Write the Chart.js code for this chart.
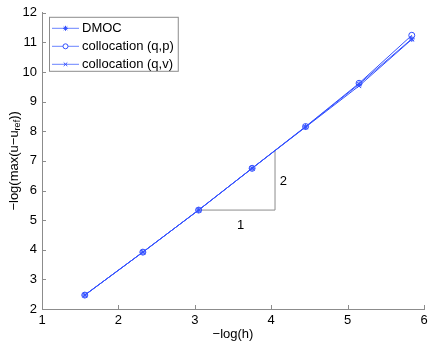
<!DOCTYPE html>
<html>
<head>
<meta charset="utf-8">
<script src="https://cdn.jsdelivr.net/npm/chart.js@4/dist/chart.umd.min.js"></script>
<style>
  html, body { margin: 0; padding: 0; background: #fff; }
</style>
</head>
<body>
<canvas id="chart" width="432" height="343"></canvas>
<script>
const negLogH = [1.56, 2.32, 3.05, 3.75, 4.45, 5.15, 5.84];
const dmoc = [2.47, 3.92, 5.34, 6.75, 8.15, 9.59, 11.12];
const collocQP = [2.47, 3.92, 5.34, 6.75, 8.16, 9.62, 11.24];
const collocQV = [2.47, 3.92, 5.34, 6.75, 8.14, 9.53, 11.10];
const seriesLabels = ["DMOC", "collocation (q,p)", "collocation (q,v)"];

// slope triangle (run 1, rise 2)
const triX = [3.05, 4.05, 4.05];
const triY = [5.34, 5.34, 7.34];
const triLabels = [
  { text: "1", x: 3.6, y: 4.81 },
  { text: "2", x: 4.16, y: 6.31 },
];

const xTicks = [1, 2, 3, 4, 5, 6];
const yTicks = [2, 3, 4, 5, 6, 7, 8, 9, 10, 11, 12];

const blue = "#3350ff";
const grey = "#8c8c8c";
const fontFamily = "'Liberation Sans', Arial, Helvetica, sans-serif";

function toPoints(xs, ys) {
  return xs.map((x, i) => ({ x: x, y: ys[i] }));
}

const matlabLook = {
  id: "matlabLook",
  afterDraw(chart) {
    const ctx = chart.ctx;
    const area = chart.chartArea;
    const xs = chart.scales.x;
    const ys = chart.scales.y;
    ctx.save();

    // inward ticks
    ctx.strokeStyle = grey;
    ctx.lineWidth = 1;
    ctx.beginPath();
    xTicks.forEach((v) => {
      const px = Math.round(xs.getPixelForValue(v)) + 0.5;
      ctx.moveTo(px, area.bottom);
      ctx.lineTo(px, area.bottom - 4);
    });
    yTicks.forEach((v) => {
      const py = Math.round(ys.getPixelForValue(v)) + 0.5;
      ctx.moveTo(area.left, py);
      ctx.lineTo(area.left + 4, py);
    });
    ctx.stroke();

    // triangle labels
    ctx.fillStyle = "#000";
    ctx.font = "13px " + fontFamily;
    ctx.textAlign = "center";
    ctx.textBaseline = "middle";
    triLabels.forEach((l) => {
      ctx.fillText(l.text, xs.getPixelForValue(l.x), ys.getPixelForValue(l.y));
    });

    // x title
    ctx.fillText("\u2212log(h)", (area.left + area.right) / 2, 334);

    // y title with subscript
    ctx.save();
    ctx.translate(14, (area.top + area.bottom) / 2);
    ctx.rotate(-Math.PI / 2);
    const main = "\u2212log(max(u\u2212u";
    const sub = "ref";
    const tail = "))";
    ctx.font = "13px " + fontFamily;
    const wMain = ctx.measureText(main).width;
    const wTail = ctx.measureText(tail).width;
    ctx.font = "9px " + fontFamily;
    const wSub = ctx.measureText(sub).width;
    let sx = -(wMain + wSub + wTail) / 2;
    ctx.textAlign = "left";
    ctx.font = "13px " + fontFamily;
    ctx.fillText(main, sx, 0);
    sx += wMain;
    ctx.font = "9px " + fontFamily;
    ctx.fillText(sub, sx, 4);
    sx += wSub;
    ctx.font = "13px " + fontFamily;
    ctx.fillText(tail, sx, 0);
    ctx.restore();

    // legend box
    const lx = area.left + 7;
    const ly = area.top + 4;
    ctx.font = "13px " + fontFamily;
    let maxW = 0;
    seriesLabels.forEach((t) => { maxW = Math.max(maxW, ctx.measureText(t).width); });
    const boxW = 33 + maxW + 4;
    const boxH = 54;
    ctx.fillStyle = "#fff";
    ctx.fillRect(lx, ly, boxW, boxH);
    ctx.strokeStyle = grey;
    ctx.strokeRect(lx + 0.5, ly + 0.5, boxW, boxH);
    seriesLabels.forEach((t, i) => {
      const ds = chart.data.datasets[i];
      const rowY = ly + 11 + i * 18;
      ctx.strokeStyle = "#6a84ff";
      ctx.lineWidth = 1;
      ctx.beginPath();
      ctx.moveTo(lx + 3, rowY + 0.5);
      ctx.lineTo(lx + 30, rowY + 0.5);
      ctx.stroke();
      ctx.strokeStyle = ds.borderColor;
      ctx.fillStyle = "#fff";
      Chart.helpers.drawPoint(ctx, {
        pointStyle: ds.pointStyle,
        radius: ds.pointRadius - 0.5,
        borderWidth: 1,
        rotation: 0,
      }, lx + 16.5, rowY + 0.5);
      ctx.fillStyle = "#000";
      ctx.textAlign = "left";
      ctx.textBaseline = "middle";
      ctx.fillText(t, lx + 33, rowY + 1);
    });

    ctx.restore();
  },
};

function series(label, ys, style, radius) {
  return {
    label: label,
    data: toPoints(negLogH, ys),
    borderColor: blue,
    backgroundColor: "rgba(0,0,0,0)",
    borderWidth: 1,
    pointStyle: style,
    pointRadius: radius,
    pointBorderColor: blue,
    pointBackgroundColor: "rgba(0,0,0,0)",
    pointBorderWidth: 1,
    tension: 0,
    order: 0,
  };
}

const chart = new Chart(document.getElementById("chart").getContext("2d"), {
  type: "line",
  data: {
    datasets: [
      series(seriesLabels[0], dmoc, "star", 3),
      series(seriesLabels[1], collocQP, "circle", 3),
      series(seriesLabels[2], collocQV, "crossRot", 3),
      {
        label: "slope",
        data: toPoints(triX, triY),
        borderColor: grey,
        borderWidth: 1,
        pointRadius: 0,
        tension: 0,
        order: 1,
      },
    ],
  },
  options: {
    responsive: false,
    devicePixelRatio: 1,
    animation: false,
    layout: { padding: { left: 0, top: 10, right: 8, bottom: 0 } },
    plugins: {
      legend: { display: false },
      tooltip: { enabled: false },
    },
    scales: {
      x: {
        type: "linear",
        min: 1,
        max: 6,
        afterFit: (s) => { s.height = 34; },
        afterBuildTicks: (s) => { s.ticks = xTicks.map((v) => ({ value: v })); },
        grid: { display: true, drawOnChartArea: false, drawTicks: false },
        border: { display: true, color: grey, width: 1 },
        ticks: {
          padding: 4,
          color: "#000",
          font: { family: fontFamily, size: 13 },
        },
      },
      y: {
        type: "linear",
        min: 2,
        max: 12,
        afterFit: (s) => { s.width = 42; },
        afterBuildTicks: (s) => { s.ticks = yTicks.map((v) => ({ value: v })); },
        grid: { display: true, drawOnChartArea: false, drawTicks: false },
        border: { display: true, color: grey, width: 1 },
        ticks: {
          padding: 5,
          color: "#000",
          font: { family: fontFamily, size: 13 },
        },
      },
    },
  },
  plugins: [matlabLook],
});
</script>
</body>
</html>
